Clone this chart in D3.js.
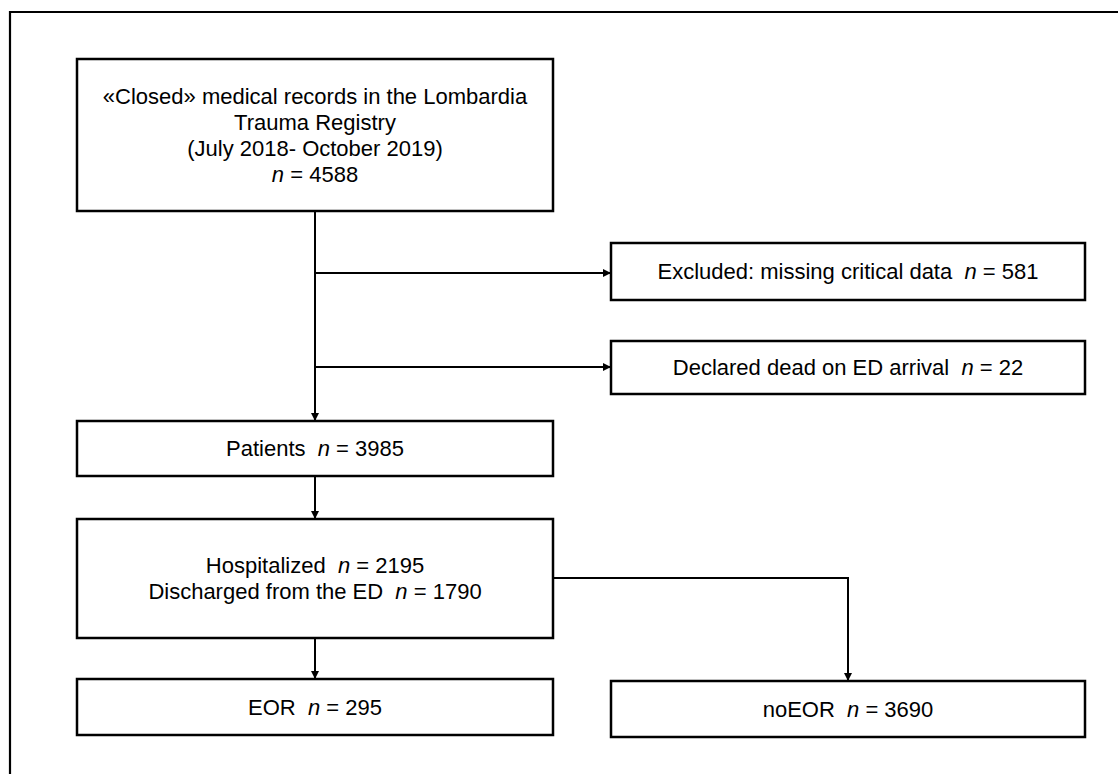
<!DOCTYPE html>
<html>
<head>
<meta charset="utf-8">
<script src="https://cdn.jsdelivr.net/npm/d3@7"></script>
<style>
  html, body { margin: 0; padding: 0; background: #fff; }
  svg text { font-family: "Liberation Sans", Arial, sans-serif; fill: #000; white-space: pre; }
</style>
</head>
<body>
<svg id="chart" width="1118" height="774"></svg>
<script>
// ---- data ----
const stepIds    = ["records", "excluded", "dead", "patients", "split", "eor", "noeor"];
const stepLabels = [
  ["«Closed» medical records in the Lombardia", "Trauma Registry", "(July 2018- October 2019)", ""],
  ["Excluded: missing critical data  "],
  ["Declared dead on ED arrival  "],
  ["Patients  "],
  ["Hospitalized  ", "Discharged from the ED  "],
  ["EOR  "],
  ["noEOR  "]
];
const stepCounts = [[4588], [581], [22], [3985], [2195, 1790], [295], [3690]];
const links = [
  ["records", "patients"],
  ["records", "excluded"],
  ["records", "dead"],
  ["patients", "split"],
  ["split", "eor"],
  ["split", "noeor"]
];

// ---- layout (positions kept apart from data) ----
const W = 1118, H = 774;
const svg = d3.select("#chart");
const fs = 22, lineH = 26;

const col = d3.scaleOrdinal().domain(["main", "side"]).range([[77, 553], [611, 1085]]);
const layout = {
  records:  {c: "main", y0: 59,  y1: 211},
  excluded: {c: "side", y0: 243, y1: 300},
  dead:     {c: "side", y0: 341, y1: 394},
  patients: {c: "main", y0: 421, y1: 476},
  split:    {c: "main", y0: 519, y1: 638},
  eor:      {c: "main", y0: 679, y1: 735},
  noeor:    {c: "side", y0: 681, y1: 737}
};

const nodes = stepIds.map((id, i) => {
  const L = layout[id];
  const [x0, x1] = col(L.c);
  return {id, label: stepLabels[i], counts: stepCounts[i], x0, x1, y0: L.y0, y1: L.y1,
          cx: (x0 + x1) / 2, cy: (L.y0 + L.y1) / 2};
});
const byId = Object.fromEntries(nodes.map(n => [n.id, n]));

// outer frame (cropped at right and bottom)
svg.append("path")
  .attr("d", `M10,${H + 20} L10,12 L${W + 20},12`)
  .attr("fill", "none").attr("stroke", "#000").attr("stroke-width", 2.2);

// arrow marker
svg.append("defs").append("marker")
  .attr("id", "arrow").attr("viewBox", "0 0 10 10")
  .attr("refX", 10).attr("refY", 5)
  .attr("markerWidth", 8).attr("markerHeight", 8)
  .attr("markerUnits", "userSpaceOnUse")
  .attr("orient", "auto")
  .append("path").attr("d", "M0,0 L10,5 L0,10 Z").attr("fill", "#000");

// links
const trunkX = byId.records.cx;
const branchY = {excluded: 273, dead: 367};
function linkPath([s, t]) {
  const a = byId[s], b = byId[t];
  if (s === "records" && (t === "excluded" || t === "dead")) {
    return `M${trunkX},${branchY[t]} L${b.x0},${branchY[t]}`;
  }
  if (s === "split" && t === "noeor") {
    const y = 578;
    return `M${a.x1},${y} L${b.cx},${y} L${b.cx},${b.y0}`;
  }
  return `M${a.cx},${a.y1} L${b.cx},${b.y0}`;
}
svg.append("g").selectAll("path").data(links).join("path")
  .attr("d", linkPath)
  .attr("fill", "none").attr("stroke", "#000").attr("stroke-width", 2)
  .attr("marker-end", "url(#arrow)");

// boxes
const g = svg.append("g").selectAll("g").data(nodes).join("g");
g.append("rect")
  .attr("x", d => d.x0).attr("y", d => d.y0)
  .attr("width", d => d.x1 - d.x0).attr("height", d => d.y1 - d.y0)
  .attr("fill", "#fff").attr("stroke", "#000").attr("stroke-width", 2.5);

g.each(function(d) {
  const sel = d3.select(this);
  const nLines = d.label.length;
  const lastCountLine = d.id === "records" ? 3 : -1;
  d.label.forEach((txt, li) => {
    const baseY = d.cy + (li - (nLines - 1) / 2) * lineH + fs * 0.358;
    const t = sel.append("text")
      .attr("x", d.cx).attr("y", baseY)
      .attr("text-anchor", "middle")
      .attr("font-size", fs);
    let count = null;
    if (d.id === "records") { if (li === lastCountLine) count = d.counts[0]; }
    else count = d.counts[li];
    if (txt) t.append("tspan").text(txt);
    if (count != null) {
      t.append("tspan").attr("font-style", "italic").text("n");
      t.append("tspan").text(" = " + count);
    }
  });
});
</script>
</body>
</html>
